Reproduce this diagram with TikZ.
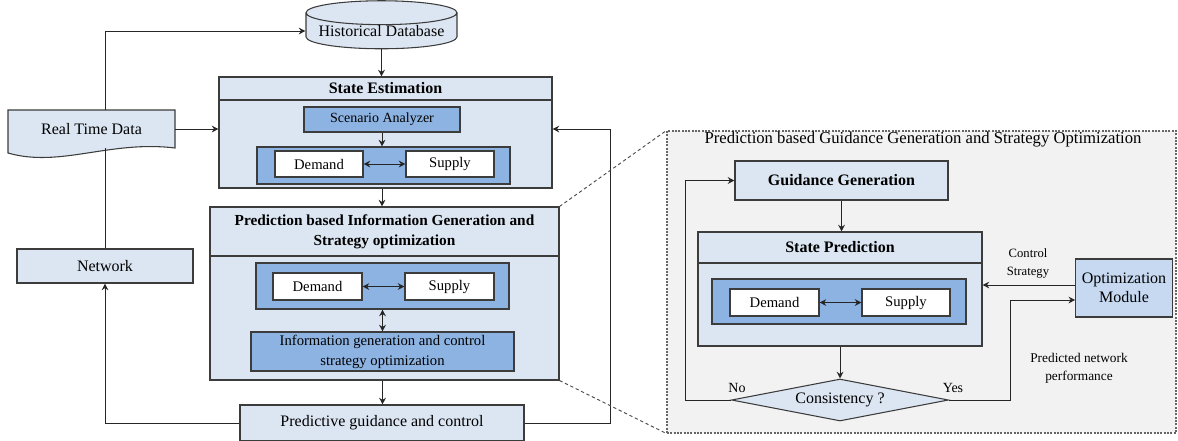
\documentclass[tikz,border=0pt]{standalone}
\usepackage{fontspec}
\setmainfont{Liberation Serif}
\usetikzlibrary{shapes.geometric,arrows.meta}
\definecolor{paleblue}{HTML}{DCE6F2}
\definecolor{midblue}{HTML}{8DB3E2}
\definecolor{optblue}{HTML}{C6D9F1}
\definecolor{panelgray}{HTML}{F2F2F2}
\definecolor{edgegray}{HTML}{3C3C3C}

\begin{document}
\begin{tikzpicture}[x=0.75pt, y=-0.75pt]

      \tikzset{box/.style={draw=edgegray, fill=paleblue, line width=0.8pt, inner sep=0pt, align=center, font=\fontsize{12}{14}\selectfont},
               inbox/.style={box, fill=midblue, font=\fontsize{10.5}{15}\selectfont},
               whitebox/.style={box, fill=white, font=\fontsize{11}{13}\selectfont},
               headbox/.style={box, font=\bfseries\fontsize{12}{15}\selectfont},
               flow/.style={draw=black!85, line width=0.75pt, -{Stealth[length=5pt,width=5pt]}},
               twoway/.style={flow, {Stealth[length=5pt,width=5pt]}-{Stealth[length=5pt,width=5pt]}},
               zoomline/.style={draw=black!70, line width=0.7pt, dash pattern=on 2.5pt off 2pt},
               note/.style={font=\fontsize{9.5}{13.5}\selectfont, align=center, inner sep=0pt}}

      \useasboundingbox (0,0) rectangle (1178,440);

%% Zoom panel
      	\node[draw=black!60, fill=panelgray, line width=0.8pt, dash pattern=on 1.5pt off 1pt, inner sep=0pt, minimum width=381.75pt, minimum height=226.5pt] (panel) at (921.5,282) {};
      	\node[font=\fontsize{12.5}{14}\selectfont, inner sep=0pt] (ptitle) at (923,140) {Prediction based Guidance Generation and Strategy Optimization};

%% Left column
      	\node[box, cylinder, shape border rotate=90, aspect=0.19, minimum width=113.25pt, minimum height=36pt] (hdb) at (381.5,31) {Historical Database};
      	\draw[draw=edgegray, fill=paleblue, line width=0.8pt] (8,110) -- (175,110) -- (175,148) .. controls (110,140) and (60,168) .. (8,153) -- cycle;
      	\node[font=\fontsize{12}{14}\selectfont, inner sep=0pt, minimum width=125.25pt, minimum height=28.5pt] (rtd) at (91.5,129) {Real Time Data};
      	\node[box, minimum width=132pt, minimum height=25.5pt] (net) at (105,266) {Network};

      	\node[headbox, minimum width=249.75pt, minimum height=17.25pt] (setitle) at (385.5,88.5) {State Estimation};
      	\node[box, minimum width=249.75pt, minimum height=66pt] (sebody) at (385.5,144) {};
      	\node[inbox, minimum width=117pt, minimum height=18.75pt] (sa) at (382,119.5) {Scenario Analyzer};
      	\node[inbox, minimum width=189.75pt, minimum height=27.75pt] (secont) at (383.5,165.5) {};
      	\node[whitebox, minimum width=66pt, minimum height=19.5pt] (sedem) at (319,164) {Demand};
      	\node[whitebox, minimum width=66pt, minimum height=19.5pt] (sesup) at (450,164) {Supply};

      	\node[headbox, font=\bfseries\fontsize{11.5}{15}\selectfont, minimum width=261.75pt, minimum height=36.75pt] (pigtitle) at (384.5,231.5) {Prediction based Information Generation and\\Strategy optimization};
      	\node[box, minimum width=261.75pt, minimum height=93pt] (pigbody) at (384.5,318) {};
      	\node[inbox, minimum width=189.75pt, minimum height=34.5pt] (pigcont) at (382.5,286) {};
      	\node[whitebox, minimum width=66.75pt, minimum height=20.25pt] (pigdem) at (317.5,286.5) {Demand};
      	\node[whitebox, minimum width=66.75pt, minimum height=20.25pt] (pigsup) at (449.5,286.5) {Supply};
      	\node[inbox, font=\fontsize{11}{15}\selectfont, minimum width=197.25pt, minimum height=29.25pt] (info) at (382.5,351.5) {Information generation and control\\strategy optimization};

      	\node[box, minimum width=213pt, minimum height=27pt] (pgc) at (382,423) {Predictive guidance and control};
      	\coordinate (back) at (610,129);

%% Right panel
      	\node[headbox, minimum width=159.75pt, minimum height=29.25pt] (gg) at (841.5,180.5) {Guidance Generation};
      	\node[headbox, minimum width=213pt, minimum height=23.25pt] (sptitle) at (840,247.5) {State Prediction};
      	\node[box, minimum width=213pt, minimum height=62.25pt] (spbody) at (840,304.5) {};
      	\node[inbox, minimum width=190.5pt, minimum height=33.75pt] (spcont) at (839,301.5) {};
      	\node[whitebox, minimum width=66.75pt, minimum height=20.25pt] (spdem) at (774.5,302.5) {Demand};
      	\node[whitebox, minimum width=66pt, minimum height=20.25pt] (spsup) at (906,302.5) {Supply};
      	\node[box, diamond, aspect=5, minimum width=162.75pt, minimum height=31.5pt] (dia) at (840,400) {Consistency ?};
      	\node[box, fill=optblue, font=\fontsize{12}{14.25}\selectfont, minimum width=72.4pt, minimum height=43.5pt] (om) at (1124,288) {Optimization\\Module};

      	\node[note, font=\fontsize{10.5}{12}\selectfont] (no) at (737,388) {No};
      	\node[note, font=\fontsize{10.5}{12}\selectfont] (yes) at (953,388) {Yes};
      	\node[note] (ctrl) at (1028,263) {Control\\Strategy};
      	\node[note, font=\fontsize{10}{13.5}\selectfont] (pnp) at (1079,368) {Predicted network\\performance};
      	\coordinate (noturn) at (685,400);
      	\coordinate (yesturn) at (1010,400);

%Edges
		\draw[flow] (rtd.north -| net.north) |- (hdb.west);
		\draw[draw=black!85, line width=0.75pt] (net.north) -- (rtd.south -| net.north);
		\draw[flow] (rtd.east) -- (rtd.east -| sebody.west);
		\draw[flow] (hdb.south) -- (hdb.south |- setitle.north);
		\draw[flow] (sa.south) -- (sa.south |- secont.north);
		\draw[twoway] (sedem) -- (sesup);
		\draw[flow] (sa.south |- sebody.south) -- (sa.south |- pigtitle.north);
		\draw[twoway] (pigdem) -- (pigsup);
		\draw[twoway] (pigcont) -- (info);
		\draw[flow] (info.south |- pigbody.south) -- (info.south |- pgc.north);
		\draw[flow] (pgc.west) -| (net.south);
		\draw[flow] (pgc.east) -| (back) -- (back -| sebody.east);
		\draw[zoomline] (pigtitle.north east) -- (panel.north west);
		\draw[zoomline] (pigbody.south east) -- (panel.south west);

		\draw[flow] (gg.south) -- (gg.south |- sptitle.north);
		\draw[twoway] (spdem) -- (spsup);
		\draw[flow] (spbody.south) -- (dia.north);
		\draw[flow] (dia.west) -- (noturn) |- (gg.west);
		\draw[flow] (dia.east) -- (yesturn) |- ([yshift=-9pt]om.west);
		\draw[flow] ([yshift=2.25pt]om.west) -- ([yshift=2.25pt]om.west -| spbody.east);
	\end{tikzpicture}
\end{document}
